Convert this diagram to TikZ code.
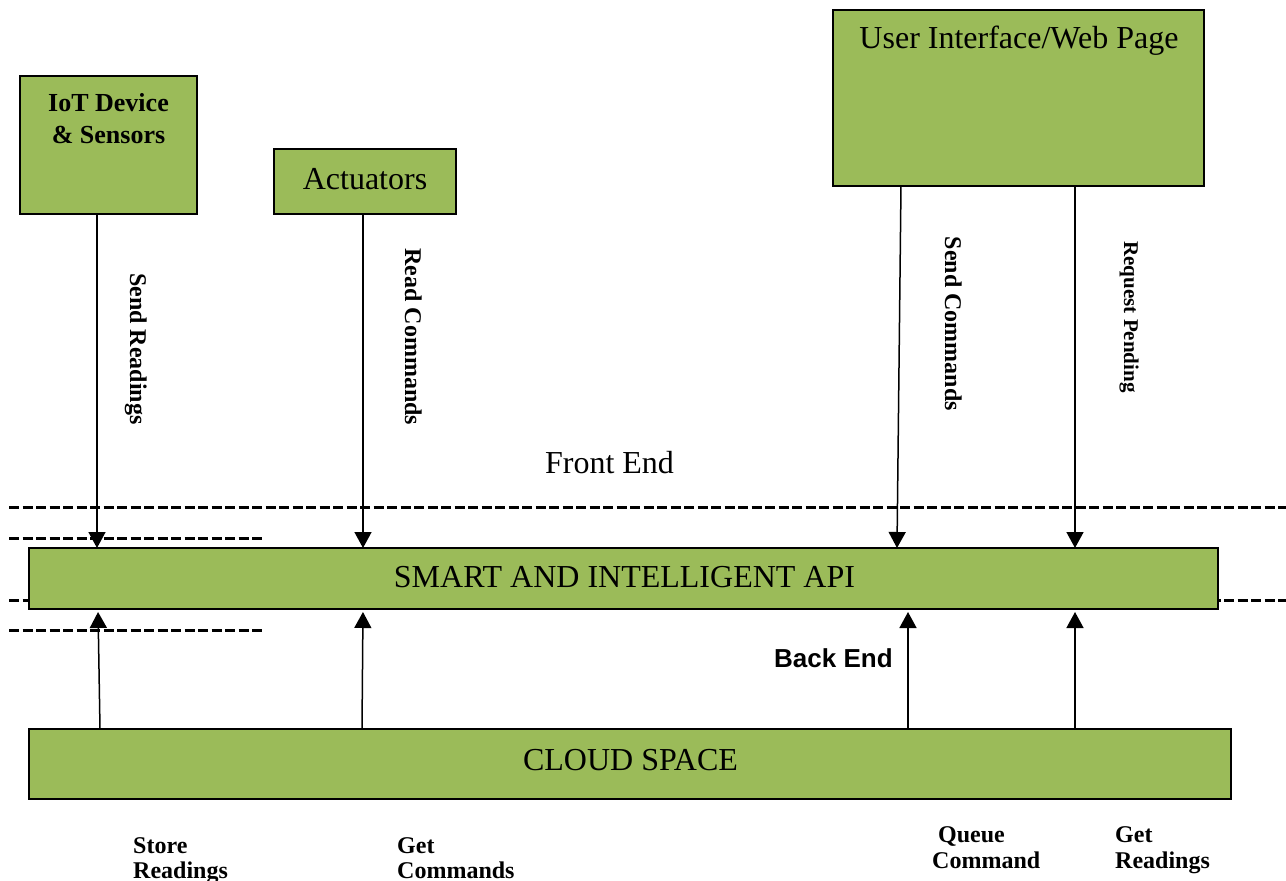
\documentclass[tikz,border=0pt]{standalone}
\usepackage{fontspec}
\setmainfont{Liberation Serif}
\newfontfamily\arialfont{Liberation Sans}
\usetikzlibrary{arrows.meta}
\definecolor{boxgreen}{HTML}{9BBB59}
\begin{document}
\begin{tikzpicture}[x=1pt,y=-1pt,
  box/.style={draw=black, line width=1.5pt, fill=boxgreen, rectangle, inner sep=0pt, outer sep=0pt},
  title/.style={inner sep=0pt, anchor=base, font=\fontsize{32}{38}\selectfont},
  boldtitle/.style={inner sep=0pt, anchor=base, font=\bfseries\fontsize{26}{32}\selectfont},
  flow/.style={inner sep=0pt, anchor=base, rotate=-90, font=\bfseries\fontsize{24}{28}\selectfont},
  note/.style={inner sep=0pt, anchor=base west, font=\bfseries\fontsize{24}{28}\selectfont},
  arr/.style={draw=black, line width=1.5pt, arrows={-Triangle[length=16pt,width=17pt]}},
  sep/.style={draw=black, line width=3pt, dash pattern=on 10pt off 3.5pt}]
\useasboundingbox (0,0) rectangle (1286,881);

% layer separators
\draw[sep] (9,507) -- (1286,507);
\draw[sep] (9,538) -- (265,538);
\draw[sep] (9,600) -- (1286,600);
\draw[sep] (9,630) -- (265,630);

% blocks
\node[box, minimum width=177pt, minimum height=138pt] (iot) at (108.5,145) {};
\node[box, minimum width=182pt, minimum height=65pt] (act) at (365,181.5) {};
\node[box, minimum width=371pt, minimum height=176pt] (ui) at (1018.5,98) {};
\node[box, minimum width=1189pt, minimum height=61pt] (api) at (623.5,578.5) {};
\node[box, minimum width=1202pt, minimum height=70pt] (cloud) at (630,764) {};

% block captions
\node[boldtitle] (iotA) at (108.5,111) {IoT Device};
\node[boldtitle] (iotB) at (108.5,143) {\& Sensors};
\node[title] (actT) at (365,189) {Actuators};
\node[title] (uiT) at (1019,48) {User Interface/Web Page};
\node[title] (apiT) at (624.5,587) {SMART AND INTELLIGENT API};
\node[title] (cloudT) at (630.5,770) {CLOUD SPACE};
\node[title] (front) at (609.5,473) {Front End};
\node[inner sep=0pt, anchor=base west, font=\arialfont\bfseries\fontsize{26}{30}\selectfont] (back) at (774,667) {Back End};

% arrow columns
\coordinate (d1) at (97,0);
\coordinate (d2) at (363,0);
\coordinate (d3t) at (901,0);
\coordinate (d3b) at (897,0);
\coordinate (d4) at (1075,0);
\coordinate (u1b) at (100,0);
\coordinate (u1t) at (98,0);
\coordinate (u2b) at (362,0);
\coordinate (u2t) at (363,0);
\coordinate (u3) at (908,0);
\coordinate (u4) at (1075,0);

% front-end requests
\draw[arr] (iot.south -| d1) -- (api.north -| d1);
\draw[arr] (act.south -| d2) -- (api.north -| d2);
\draw[arr] (ui.south -| d3t) -- (api.north -| d3b);
\draw[arr] (ui.south -| d4) -- (api.north -| d4);

% back-end responses
\draw[arr, shorten >=3pt] (cloud.north -| u1b) -- (api.south -| u1t);
\draw[arr, shorten >=3pt] (cloud.north -| u2b) -- (api.south -| u2t);
\draw[arr, shorten >=3pt] (cloud.north -| u3) -- (api.south -| u3);
\draw[arr, shorten >=3pt] (cloud.north -| u4) -- (api.south -| u4);

% arrow labels
\node[flow] (l1) at (130,349) {Send Readings};
\node[flow] (l2) at (405,337) {Read Commands};
\node[flow] (l3) at (945,324) {Send Commands};
\node[flow, font=\bfseries\fontsize{21}{25}\selectfont] (l4) at (1124,317) {Request Pending};

\node[note] (b1a) at (133,853) {Store};
\node[note] (b1b) at (133,878) {Readings};
\node[note] (b2a) at (397,853) {Get};
\node[note] (b2b) at (397,878) {Commands};
\node[note] (b3a) at (938,842) {Queue};
\node[note] (b3b) at (932,868) {Command};
\node[note] (b4a) at (1115,842) {Get};
\node[note] (b4b) at (1115,868) {Readings};
\end{tikzpicture}
\end{document}
